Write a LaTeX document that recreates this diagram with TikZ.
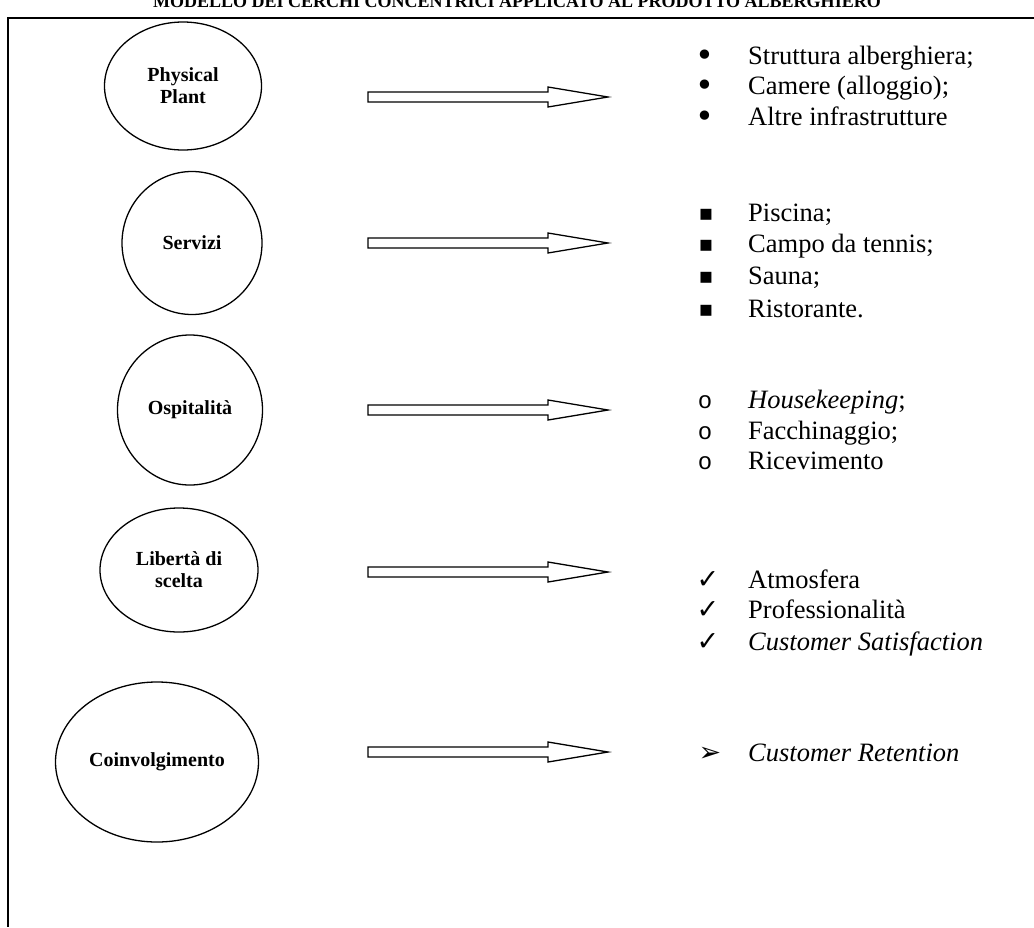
\documentclass[tikz,border=0pt]{standalone}
\usepackage{fontspec}
\setmainfont{Liberation Serif}
\newfontfamily\symfont{DejaVu Sans}
\newfontfamily\monofont{Liberation Mono}
\usetikzlibrary{shapes.geometric}
\tikzset{
  level/.style={ellipse, draw, line width=1.3pt, inner sep=0pt, align=center,
    font=\bfseries\fontsize{20}{22}\selectfont},
  blockarrow/.style={draw, line width=1.3pt, fill=white},
  item/.style={anchor=base west, inner sep=0pt, font=\fontsize{26.5}{30}\selectfont},
  bulletmark/.style={anchor=base, inner sep=0pt},
  dotmark/.style={bulletmark, font=\symfont\fontsize{32}{34}\selectfont},
  squaremark/.style={bulletmark, font=\symfont\fontsize{22}{26}\selectfont},
  ringmark/.style={bulletmark, font=\monofont\fontsize{24}{28}\selectfont},
  tickmark/.style={bulletmark, font=\symfont\fontsize{27}{30}\selectfont},
  pointermark/.style={bulletmark, font=\symfont\fontsize{27}{30}\selectfont},
  frame/.style={line width=1.5pt}
}
% a hollow block arrow centred vertically on #1, from x=368 to x=608
\newcommand{\blockarrowat}[2]{%
  \draw[blockarrow] (368,#1-5) -- (548,#1-5) -- (548,#1-10) -- (608,#1)
    -- (548,#1+10) -- (548,#1+5) -- (368,#1+5) -- cycle;
  \coordinate (#2) at (488,#1);}
\begin{document}
\begin{tikzpicture}[x=1pt, y=-1pt]
\useasboundingbox (0,0) rectangle (1034,927);
\clip (0,0) rectangle (1034,927);
\fill[white] (0,0) rectangle (1034,927);

% heading, cut by the top of the page
\node[anchor=base, inner sep=0pt, font=\bfseries\fontsize{18}{20}\selectfont] (title) at (517,7)
  {MODELLO DEI CERCHI CONCENTRICI APPLICATO AL PRODOTTO ALBERGHIERO};

% open frame
\draw[frame] (1034,18) -- (8,18) -- (8,927);

% the five levels of the hotel product
\node[level, minimum width=157pt, minimum height=128pt] (pp) at (183,86) {Physical\\Plant};
\node[level, minimum width=140pt, minimum height=143pt] (serv) at (192,243) {Servizi};
\node[level, minimum width=145pt, minimum height=150pt] (osp) at (190,410) {Ospitalità};
\node[level, minimum width=158pt, minimum height=124pt] (lib) at (179,570) {Libertà di\\scelta};
\node[level, minimum width=203pt, minimum height=160pt] (coin) at (157,762) {Coinvolgimento};

% block arrows
\blockarrowat{97}{a1}
\blockarrowat{243}{a2}
\blockarrowat{410}{a3}
\blockarrowat{572}{a4}
\blockarrowat{752}{a5}

% lists
\node[dotmark] (b11) at (705,66) {•};
\node[item] (t11) at (748,64) {Struttura alberghiera;};
\node[dotmark] (b12) at (705,96) {•};
\node[item] (t12) at (748,94) {Camere (alloggio);};
\node[dotmark] (b13) at (705,127) {•};
\node[item] (t13) at (748,125) {Altre infrastrutture};

\node[squaremark] (b21) at (706,220) {▪};
\node[item] (t21) at (748,221) {Piscina;};
\node[squaremark] (b22) at (706,251) {▪};
\node[item] (t22) at (748,252) {Campo da tennis;};
\node[squaremark] (b23) at (706,283) {▪};
\node[item] (t23) at (748,284) {Sauna;};
\node[squaremark] (b24) at (706,316) {▪};
\node[item] (t24) at (748,317) {Ristorante.};

\node[ringmark] (b31) at (705,408) {o};
\node[item] (t31) at (748,408) {\textit{Housekeeping};};
\node[ringmark] (b32) at (705,439) {o};
\node[item] (t32) at (748,439) {Facchinaggio;};
\node[ringmark] (b33) at (705,469) {o};
\node[item] (t33) at (748,469) {Ricevimento};

\node[tickmark] (b41) at (708,588) {✓};
\node[item] (t41) at (748,588) {Atmosfera};
\node[tickmark] (b42) at (708,618) {✓};
\node[item] (t42) at (748,618) {Professionalità};
\node[tickmark] (b43) at (708,650) {✓};
\node[item] (t43) at (748,650) {\textit{Customer Satisfaction}};

\node[pointermark] (b51) at (710,761) {➢};
\node[item] (t51) at (748,761) {\textit{Customer Retention}};
\end{tikzpicture}
\end{document}
